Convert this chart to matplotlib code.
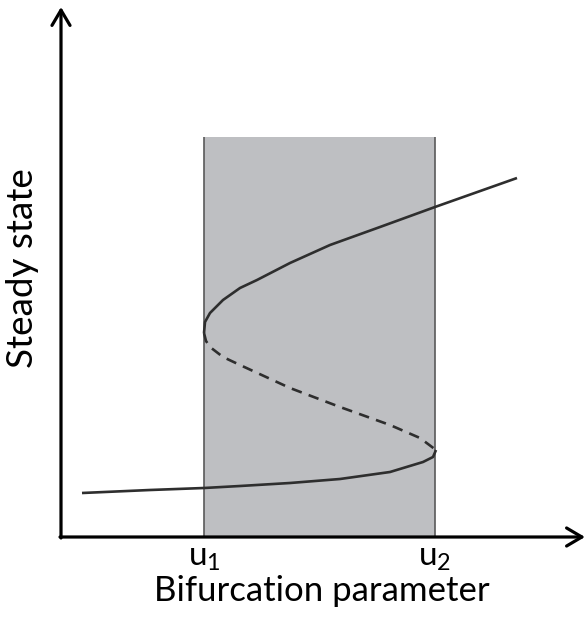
import matplotlib
matplotlib.use("Agg")
import matplotlib.pyplot as plt

# S-shaped steady state curve (chart units, origin at the axes corner)
upper_x = [143, 144, 149, 162, 179, 196, 229, 269, 319, 374, 456]
upper_y = [204, 215, 224, 237, 249, 257, 274, 292, 310, 330, 359]
middle_x = [143, 145, 149, 162, 179, 229, 279, 329, 359, 375]
middle_y = [204, 196, 190, 180, 172, 149, 130, 112, 99, 87]
lower_x = [375, 372, 362, 329, 279, 229, 179, 143, 89, 21]
lower_y = [87, 80, 75, 65, 58, 54, 51, 49, 47, 44]

u1 = 143
u2 = 374
band_top = 400
tick_labels = [r"$\mathrm{u}_1$", r"$\mathrm{u}_2$"]

plt.rcParams['font.family'] = ['Lato', 'DejaVu Sans']
plt.rcParams['mathtext.fontset'] = 'custom'
plt.rcParams['mathtext.rm'] = 'Lato'

W, H = 587, 622
fig = plt.figure(figsize=(W / 100, H / 100), dpi=100)
ax = fig.add_axes([61 / W, 85 / H, 524 / W, 530 / H])
ax.set_xlim(0, 524)
ax.set_ylim(0, 530)
for s in ax.spines.values():
	s.set_visible(False)

# bistable region
ax.fill_between([u1, u2], 0, band_top, color='#bebfc2', lw=0, zorder=1)
ax.vlines([u1, u2], 0, band_top, color='#5a5a5a', lw=1.2, zorder=2)

curve = '#2e2e2e'
ax.plot(upper_x, upper_y, color=curve, lw=1.9, zorder=3, solid_capstyle='butt')
ax.plot(lower_x, lower_y, color=curve, lw=1.9, zorder=3, solid_capstyle='butt')
ax.plot(middle_x, middle_y, color=curve, lw=1.9, zorder=3, linestyle=(0, (4, 2.8)))

# axes with open arrow heads
arr = dict(arrowstyle='->,head_length=1.1,head_width=0.65', color='black', lw=2.3,
	shrinkA=0, shrinkB=0)
ax.annotate('', xy=(524, 0), xytext=(-1, 0), arrowprops=arr, annotation_clip=False, zorder=4)
ax.annotate('', xy=(0, 530), xytext=(0, -1), arrowprops=arr, annotation_clip=False, zorder=4)

ax.set_xticks([u1, u2])
ax.set_xticklabels(tick_labels, fontsize=24)
ax.tick_params(axis='x', length=0, pad=4)
ax.set_yticks([])

fig.text(322 / W, 1 - 591 / H, 'Bifurcation parameter', fontsize=25, ha='center', va='center')
fig.text(23 / W, 1 - 268 / H, 'Steady state', fontsize=26.5, ha='center', va='center', rotation=90)

fig.savefig('out.png', dpi=100)
